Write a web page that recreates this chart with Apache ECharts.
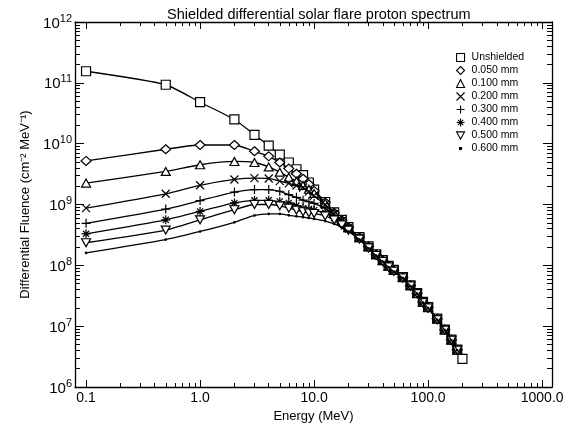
<!DOCTYPE html>
<html>
<head>
<meta charset="utf-8">
<script src="https://cdn.jsdelivr.net/npm/echarts@6/dist/echarts.min.js"></script>
<style>
html,body{margin:0;padding:0;background:#fff;}
#protonChart{width:567px;height:430px;}
</style>
</head>
<body>
<div id="protonChart"></div>
<script>
// energies (MeV) where the spectrum was sampled
const energies = [0.1, 0.5, 1, 2, 3, 4, 5, 6, 7, 8, 9, 10, 12.5, 15, 17.5, 20, 25, 30, 35, 40, 45, 50, 60, 70, 80, 90, 100, 120, 140, 160, 180, 200];

// unshielded runs to 200 MeV, the shielded curves stop at 180 MeV
const unshielded = [1.55e11, 9.3e10, 4.8e10, 2.5e10, 1.4e10, 9.3e9, 6.6e9, 4.9e9, 3.8e9, 3.05e9, 2.3e9, 1.75e9, 1.1e9, 7.4e8, 5.6e8, 4.25e8, 2.9e8, 2.05e8, 1.52e8, 1.22e8, 9.8e7, 8.4e7, 6.4e7, 4.7e7, 3.5e7, 2.5e7, 2.05e7, 1.33e7, 8.8e6, 6.0e6, 4.1e6, 2.9e6];
const shield050 = [5.2e9, 8.1e9, 9.5e9, 9.5e9, 7.5e9, 6.2e9, 4.9e9, 3.9e9, 3.2e9, 2.65e9, 2.15e9, 1.68e9, 1.08e9, 7.3e8, 5.5e8, 4.2e8, 2.88e8, 2.04e8, 1.51e8, 1.21e8, 9.75e7, 8.35e7, 6.37e7, 4.68e7, 3.48e7, 2.49e7, 2.04e7, 1.32e7, 8.77e6, 5.97e6, 4.08e6];
const shield100 = [2.25e9, 3.5e9, 4.5e9, 5.1e9, 4.9e9, 4.15e9, 3.4e9, 2.8e9, 2.4e9, 2.05e9, 1.78e9, 1.52e9, 1.05e9, 7.15e8, 5.45e8, 4.17e8, 2.86e8, 2.03e8, 1.5e8, 1.2e8, 9.7e7, 8.3e7, 6.34e7, 4.66e7, 3.47e7, 2.48e7, 2.03e7, 1.31e7, 8.74e6, 5.95e6, 4.07e6];
const shield200 = [8.7e8, 1.5e9, 2.07e9, 2.58e9, 2.72e9, 2.68e9, 2.42e9, 2.23e9, 2.05e9, 1.9e9, 1.63e9, 1.4e9, 9.9e8, 6.95e8, 5.35e8, 4.12e8, 2.83e8, 2.01e8, 1.49e8, 1.19e8, 9.65e7, 8.25e7, 6.3e7, 4.64e7, 3.46e7, 2.47e7, 2.02e7, 1.3e7, 8.7e6, 5.93e6, 4.06e6];
const shield300 = [4.9e8, 8.4e8, 1.16e9, 1.6e9, 1.76e9, 1.76e9, 1.65e9, 1.45e9, 1.31e9, 1.18e9, 1.11e9, 1.04e9, 8.7e8, 6.55e8, 5.1e8, 4.02e8, 2.8e8, 1.99e8, 1.48e8, 1.18e8, 9.6e7, 8.2e7, 6.27e7, 4.62e7, 3.45e7, 2.46e7, 2.01e7, 1.3e7, 8.68e6, 5.92e6, 4.05e6];
const shield400 = [3.3e8, 5.6e8, 7.7e8, 1.06e9, 1.17e9, 1.17e9, 1.12e9, 1.06e9, 9.6e8, 8.7e8, 8.4e8, 8.05e8, 7.3e8, 6.0e8, 4.8e8, 3.87e8, 2.75e8, 1.96e8, 1.47e8, 1.17e8, 9.5e7, 8.1e7, 6.23e7, 4.6e7, 3.44e7, 2.45e7, 2.0e7, 1.29e7, 8.65e6, 5.9e6, 4.04e6];
const shield500 = [2.35e8, 3.8e8, 5.6e8, 8.2e8, 1.0e9, 1.0e9, 9.5e8, 8.7e8, 8.1e8, 7.6e8, 7.3e8, 7.1e8, 6.5e8, 5.55e8, 4.6e8, 3.77e8, 2.7e8, 1.93e8, 1.46e8, 1.16e8, 9.4e7, 8.0e7, 6.2e7, 4.58e7, 3.43e7, 2.44e7, 1.99e7, 1.28e7, 8.62e6, 5.88e6, 4.03e6];
const shield600 = [1.6e8, 2.65e8, 3.6e8, 5.1e8, 6.6e8, 7.0e8, 7.0e8, 6.65e8, 6.4e8, 6.2e8, 6.0e8, 5.8e8, 5.35e8, 4.8e8, 4.2e8, 3.6e8, 2.64e8, 1.9e8, 1.44e8, 1.15e8, 9.3e7, 7.9e7, 6.15e7, 4.55e7, 3.42e7, 2.43e7, 1.98e7, 1.27e7, 8.6e6, 5.85e6, 4.02e6];

const seriesNames = ["Unshielded", "0.050 mm", "0.100 mm", "0.200 mm", "0.300 mm", "0.400 mm", "0.500 mm", "0.600 mm"];
const seriesValues = [unshielded, shield050, shield100, shield200, shield300, shield400, shield500, shield600];

const xMajorTicks = [0.1, 1, 10, 100, 1000];
const yMajorTicks = [1e6, 1e7, 1e8, 1e9, 1e10, 1e11, 1e12];

const xMinorTicks = [];
[0.1, 1, 10, 100].forEach(d => { for (let k = 2; k <= 9; k++) xMinorTicks.push(d * k); });
const yMinorTicks = [];
[1e6, 1e7, 1e8, 1e9, 1e10, 1e11].forEach(d => { for (let k = 2; k <= 9; k++) yMinorTicks.push(d * k); });

const crossPath = "path://M0,0L10,10M10,0L0,10";
const plusPath = "path://M5,0L5,10M0,5L10,5";
const starPath = "path://M5,0L5,10M0,5L10,5M1.6,1.6L8.4,8.4M8.4,1.6L1.6,8.4";
const downTriPath = "path://M0,0L10,0L5,9Z";
const dotPath = "path://M0,0M10,10M3.8,3.8L6.2,3.8L6.2,6.2L3.8,6.2Z";

const symbols = ["rect", "diamond", "triangle", crossPath, plusPath, starPath, downTriPath, "circle"];
const symbolSizes = [[9, 9], [10, 9], [9, 8], 8, 9, 9, [9, 8], 1.5];
const legendIcons = ["rect", "diamond", "triangle", crossPath, plusPath, starPath, downTriPath, dotPath];

const fontFamily = "Liberation Sans, Arial, sans-serif";

const chart = echarts.init(document.getElementById("protonChart"));

const xRange = {type: "log", logBase: 10, min: 0.08, max: 1220, splitLine: {show: false}};
const yRange = {type: "log", logBase: 10, min: 1e6, max: 1e12, splitLine: {show: false}};
const frameLine = {show: true, lineStyle: {color: "#000", width: 1.3}};

function tickAxis(base, position, values, length, withLine) {
    return Object.assign({}, base, {
        position: position,
        axisLine: withLine ? frameLine : {show: false},
        axisLabel: {show: false},
        axisTick: {show: true, inside: true, length: length, customValues: values, lineStyle: {color: "#000", width: 1}}
    });
}

const xAxes = [
    Object.assign({}, xRange, {
        position: "bottom",
        axisLine: frameLine,
        axisTick: {show: true, inside: true, length: 7, customValues: xMajorTicks, lineStyle: {color: "#000"}},
        axisLabel: {
            customValues: xMajorTicks,
            margin: 4,
            color: "#000",
            fontSize: 14,
            fontFamily: fontFamily,
            formatter: v => v.toFixed(1)
        },
        name: "Energy (MeV)",
        nameLocation: "middle",
        nameGap: 20,
        nameTextStyle: {color: "#000", fontSize: 13, fontFamily: fontFamily, verticalAlign: "top"}
    }),
    tickAxis(xRange, "bottom", xMinorTicks, 4, false),
    tickAxis(xRange, "top", xMajorTicks, 7, true),
    tickAxis(xRange, "top", xMinorTicks, 4, false)
];

const yAxes = [
    Object.assign({}, yRange, {
        position: "left",
        axisLine: frameLine,
        axisTick: {show: true, inside: true, length: 9, customValues: yMajorTicks, lineStyle: {color: "#000"}},
        axisLabel: {
            customValues: yMajorTicks,
            margin: 3,
            color: "#000",
            fontFamily: fontFamily,
            formatter: v => "{b|10}{s|" + Math.round(Math.log10(v)) + "}",
            rich: {
                b: {fontSize: 15, fontFamily: fontFamily, color: "#000", lineHeight: 18, verticalAlign: "bottom"},
                s: {fontSize: 11, fontFamily: fontFamily, color: "#000", lineHeight: 9, verticalAlign: "top"}
            }
        },
        name: "Differential Fluence (cm\u207B\u00B2 MeV\u207B\u00B9)",
        nameLocation: "middle",
        nameGap: 29,
        nameRotate: 90,
        nameTextStyle: {color: "#000", fontSize: 13, fontFamily: fontFamily}
    }),
    tickAxis(yRange, "left", yMinorTicks, 5, false),
    tickAxis(yRange, "right", yMajorTicks, 9, true),
    tickAxis(yRange, "right", yMinorTicks, 5, false)
];

const series = seriesNames.map((name, i) => ({
    name: name,
    type: "line",
    xAxisIndex: 0,
    yAxisIndex: 0,
    data: seriesValues[i].map((v, j) => [energies[j], v]),
    symbol: symbols[i],
    symbolSize: symbolSizes[i],
    smooth: 0.2,
    lineStyle: {color: "#000", width: 1.3},
    itemStyle: {color: i === 7 ? "#000" : "#fff", borderColor: "#000", borderWidth: 1.2},
    emphasis: {disabled: true},
    z: 2 + i
}));

chart.setOption({
    animation: false,
    backgroundColor: "#fff",
    title: {
        text: "Shielded differential solar flare proton spectrum",
        left: 162,
        top: 2,
        textStyle: {color: "#000", fontSize: 14.5, fontWeight: "normal", fontFamily: fontFamily}
    },
    legend: {
        orient: "vertical",
        left: 451,
        top: 47,
        itemWidth: 8,
        itemHeight: 8,
        itemGap: 2,
        selectedMode: false,
        textStyle: {color: "#000", fontSize: 10.5, fontFamily: fontFamily, lineHeight: 11, padding: [0, 0, 0, 2]},
        data: seriesNames.map((name, i) => ({
            name: name,
            icon: legendIcons[i],
            itemStyle: {color: i === 7 ? "#000" : "#fff", borderColor: "#000", borderWidth: 1.1}
        }))
    },
    grid: {left: 75, right: 15, top: 22, bottom: 43},
    xAxis: xAxes,
    yAxis: yAxes,
    series: series
});
</script>
</body>
</html>
